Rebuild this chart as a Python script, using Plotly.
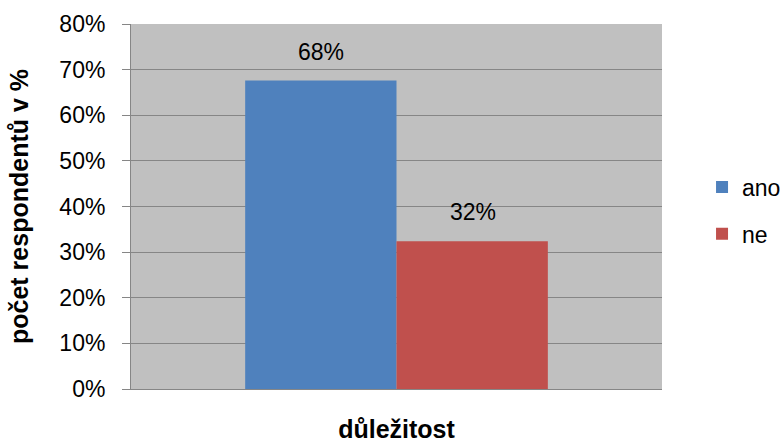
import plotly.graph_objects as go

# Survey share of respondents, by answer
category = ["důležitost"]
answers = ["ano", "ne"]
shares = [0.676, 0.324]
colors = ["#4F81BD", "#C0504D"]

y_ticks = [0, 0.1, 0.2, 0.3, 0.4, 0.5, 0.6, 0.7, 0.8]
y_tick_labels = ["0%", "10%", "20%", "30%", "40%", "50%", "60%", "70%", "80%"]

FONT = "Liberation Sans, Arial, sans-serif"
SIZE = 23
TITLE_SIZE = 25

fig = go.Figure()
for name, val, col in zip(answers, shares, colors):
    fig.add_trace(go.Bar(
        x=category, y=[val], name=name, marker_color=col,
        marker_line_width=0, legendgroup=name,
        hoverinfo="skip",
    ))

# value labels above each bar
offsets = [-76, 76]
for val, dx in zip(shares, offsets):
    fig.add_annotation(
        x=category[0], y=val, text=f"{val:.0%}", showarrow=False,
        xshift=dx, yshift=29, font=dict(family=FONT, size=SIZE, color="#000000"),
    )

fig.update_layout(
    width=783, height=443,
    margin=dict(l=131, r=121, t=24, b=54, autoexpand=False),
    paper_bgcolor="white", plot_bgcolor="#C0C0C0",
    barmode="group", bargap=0.43, bargroupgap=0,
    font=dict(family=FONT, size=SIZE, color="#000000"),
    showlegend=True,
    legend=dict(
        xref="container", yref="container",
        x=0.8966, xanchor="left", y=0.525, yanchor="middle",
        font=dict(family=FONT, size=SIZE, color="#000000"),
        tracegroupgap=14, traceorder="grouped",
        itemwidth=30, bgcolor="rgba(0,0,0,0)",
    ),
)

fig.update_xaxes(
    automargin=False,
    showticklabels=False, showgrid=False, ticks="",
    showline=True, linecolor="#868686", linewidth=1,
    title=dict(text="<b>důležitost</b>", font=dict(family=FONT, size=TITLE_SIZE), standoff=36),
)
fig.update_yaxes(
    automargin=False,
    range=[0, 0.8], tickvals=y_ticks, ticktext=y_tick_labels,
    showgrid=True, gridcolor="#868686", gridwidth=1,
    showline=True, linecolor="#868686", linewidth=1,
    ticks="outside", ticklen=8, tickcolor="#868686",
    ticklabelstandoff=12, zeroline=False,
    tickfont=dict(family=FONT, size=SIZE),
    title=dict(text="<b>počet respondentů v %</b>", font=dict(family=FONT, size=TITLE_SIZE), standoff=23),
)

fig.write_html("out.html")
